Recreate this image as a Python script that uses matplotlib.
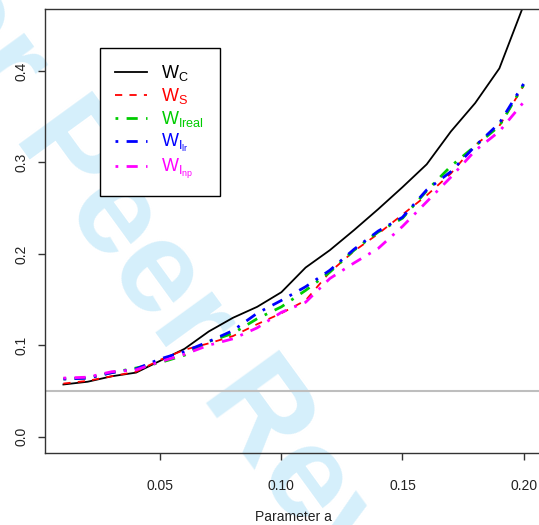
import numpy as np
import matplotlib
matplotlib.use("Agg")
import matplotlib.pyplot as plt

plt.rcParams['font.family'] = ['Liberation Sans', 'DejaVu Sans']
plt.rcParams['mathtext.default'] = 'regular'

# data
a = [0.01, 0.02, 0.03, 0.04, 0.05, 0.06, 0.07, 0.08, 0.09, 0.10,
     0.11, 0.12, 0.13, 0.14, 0.15, 0.16, 0.17, 0.18, 0.19, 0.20]
w_c = [0.057, 0.060, 0.066, 0.070, 0.083, 0.096, 0.115, 0.130, 0.142, 0.158,
       0.185, 0.204, 0.226, 0.249, 0.273, 0.298, 0.334, 0.365, 0.403, 0.472]
w_s = [0.058, 0.061, 0.066, 0.071, 0.084, 0.095, 0.102, 0.110, 0.123, 0.135,
       0.149, 0.180, 0.203, 0.222, 0.243, 0.264, 0.288, 0.319, 0.340, 0.384]
w_ireal = [0.063, 0.064, 0.070, 0.075, 0.081, 0.089, 0.104, 0.113, 0.129, 0.142,
           0.160, 0.180, 0.204, 0.224, 0.239, 0.269, 0.296, 0.318, 0.340, 0.385]
w_ilr = [0.063, 0.064, 0.070, 0.074, 0.085, 0.093, 0.104, 0.116, 0.135, 0.149,
         0.164, 0.182, 0.205, 0.225, 0.240, 0.270, 0.290, 0.318, 0.343, 0.386]
w_inp = [0.064, 0.065, 0.071, 0.073, 0.082, 0.090, 0.100, 0.107, 0.119, 0.136,
         0.147, 0.173, 0.190, 0.206, 0.230, 0.257, 0.284, 0.313, 0.334, 0.366]
level = 0.05

W, H = 539, 525
fig = plt.figure(figsize=(W/100, H/100), dpi=100)
ax = fig.add_axes([45/W, (H-453)/H, (542-45)/W, (453-9)/H])
ax.set_facecolor('none')

# watermark behind everything
fig.text(-0.245, 1.12, "For Peer Review", rotation=-54, rotation_mode='anchor',
         ha='left', va='baseline', fontsize=94, fontweight='bold',
         color='#d5effb', zorder=-1)

dd = (0, (1, 3, 4, 3))
ax.axhline(level, xmin=0, xmax=1, color='#bebebe', lw=1.5, zorder=1)
ax.plot(a, w_c, color='black', lw=1.3, label='$W_C$')
ax.plot(a, w_s, color='#ff0000', lw=1.3, ls=(0, (4, 4)), label='$W_S$')
ax.plot(a, w_ireal, color='#00cc00', lw=2.0, ls=dd, label='$W_{Ireal}$')
ax.plot(a, w_ilr, color='#0000ff', lw=2.0, ls=dd, label='$W_{I_{lr}}$')
ax.plot(a, w_inp, color='#ff00ff', lw=2.0, ls=dd, label='$W_{I_{np}}$')

ax.set_xlim(0.0024, 0.2076)
ax.set_ylim(-0.018, 0.468)
ax.set_xticks([0.05, 0.10, 0.15, 0.20])
ax.set_xticklabels(['0.05', '0.10', '0.15', '0.20'])
ax.set_yticks([0.0, 0.1, 0.2, 0.3, 0.4])
ax.set_yticklabels(['0.0', '0.1', '0.2', '0.3', '0.4'])
for s in ax.spines.values():
    s.set_color('#333333')
    s.set_linewidth(1.0)
ax.tick_params(axis='both', direction='out', length=5, width=1.0,
               color='#333333', labelsize=10, labelcolor='#222222')
ax.tick_params(axis='x', pad=14)
ax.tick_params(axis='y', pad=7, labelrotation=90)
for t in ax.get_yticklabels():
    t.set_va('center')

ax.set_xlabel('Parameter a', fontsize=10, color='#222222', labelpad=12)

leg = ax.legend(loc='upper left', bbox_to_anchor=(100/W, 1-48/H),
                bbox_transform=fig.transFigure, borderaxespad=0,
                fancybox=False, framealpha=1, edgecolor='black',
                fontsize=13, labelcolor='linecolor', handlelength=1.75,
                handletextpad=0.8, labelspacing=0.16, borderpad=0.85)
leg.get_frame().set_linewidth(1.0)

fig.savefig("out.png", dpi=100)
